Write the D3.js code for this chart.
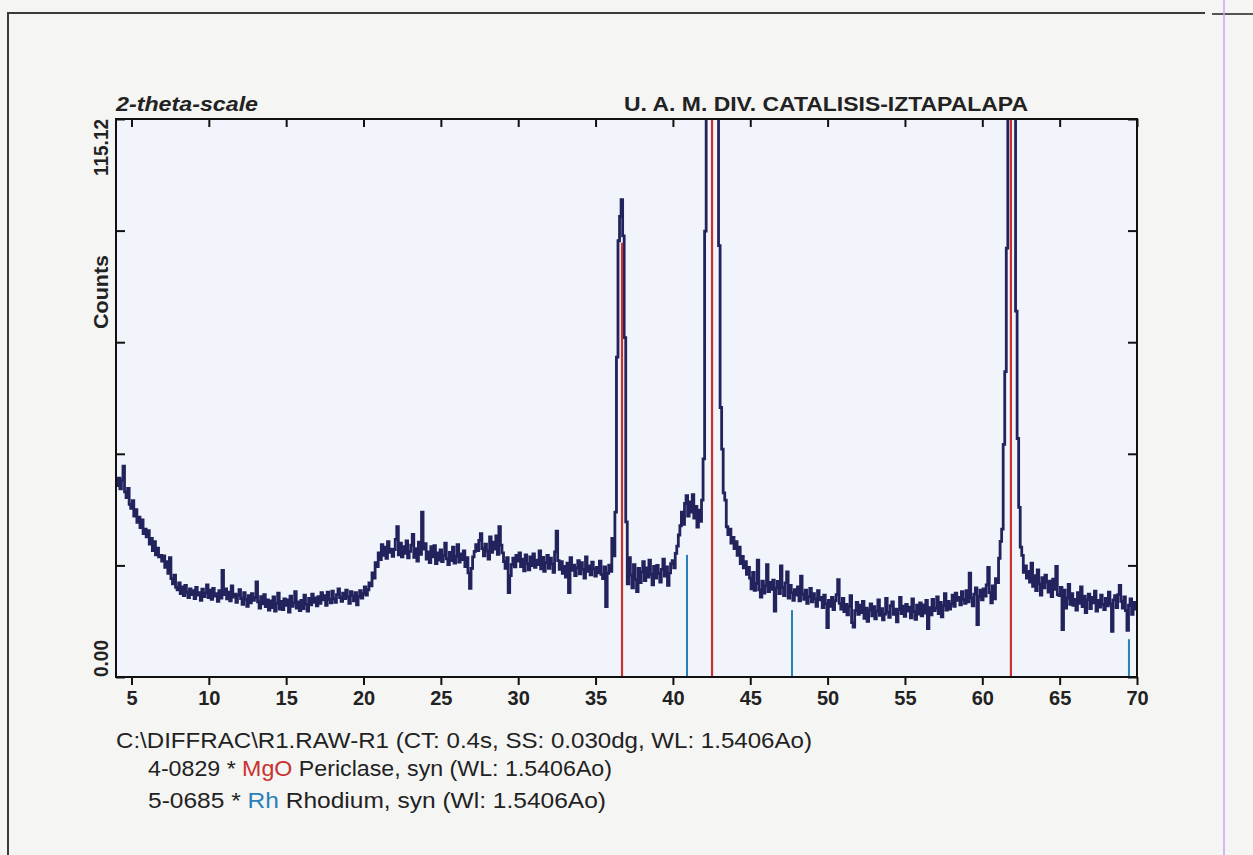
<!DOCTYPE html>
<html>
<head>
<meta charset="utf-8">
<script src="https://cdnjs.cloudflare.com/ajax/libs/d3/7.8.5/d3.min.js"></script>
<style>
    body { margin: 0; background: #f5f5f4; }
    text { font-family: "Liberation Sans", Arial, sans-serif; fill: #222; }
</style>
</head>
<body>
<div id="chart"></div>
<script>
// scan settings
var startAngle = 4.0,
    stepSize = 0.1;

// counts, one row per degree (4.0 ... 69.9, then 70.0)
var counts = [
    40.2, 39.5, 41.0, 38.8, 40.6, 43.5, 38.2, 37.0, 38.9, 35.6,
    34.8, 36.4, 33.2, 34.5, 31.9, 33.0, 30.8, 32.4, 29.6, 30.5,
    28.9, 30.2, 27.4, 28.6, 26.1, 27.9, 25.2, 26.6, 24.8, 25.1,
    23.9, 25.0, 22.6, 23.8, 21.4, 24.6, 20.3, 19.2, 21.0, 18.5,
    18.0, 19.4, 17.2, 18.6, 16.8, 18.9, 17.5, 16.4, 18.2, 17.0,
    17.8, 16.2, 18.5, 16.9, 17.4, 15.8, 18.1, 16.6, 17.3, 19.0,
    16.4, 17.9, 16.0, 18.3, 16.7, 17.2, 15.6, 17.8, 16.3, 22.0,
    17.0, 18.2, 16.1, 17.5, 15.7, 18.8, 16.5, 17.1, 15.4, 16.9,
    18.0, 16.2, 15.0, 17.4, 16.0, 14.6, 16.8, 15.3, 17.2, 15.8,
    16.4, 19.6, 15.5, 14.2, 16.6, 15.1, 17.0, 14.5, 15.9, 13.8,
    15.7, 14.3, 16.5, 13.6, 15.2, 17.3, 14.0, 15.6, 13.9, 16.1,
    14.8, 15.9, 13.4, 16.7, 14.6, 15.3, 17.6, 14.2, 15.5, 13.7,
    15.8, 14.1, 16.9, 15.0, 13.6, 16.2, 14.9, 17.1, 15.4, 16.3,
    14.7, 16.6, 15.2, 17.4, 15.9, 16.8, 14.8, 17.5, 16.0, 15.3,
    17.7, 16.1, 15.4, 17.0, 18.2, 16.4, 15.6, 17.3, 16.2, 17.9,
    16.5, 15.2, 17.6, 16.8, 15.7, 17.4, 14.9, 16.6, 17.8, 16.3,
    17.2, 18.6, 16.9, 18.0, 19.4, 18.8, 21.5, 20.4, 23.6, 22.8,
    25.6, 24.2, 27.3, 25.1, 26.8, 24.5, 27.9, 25.7, 26.4, 24.9,
    26.3, 28.4, 31.0, 25.2, 27.6, 24.8, 26.9, 25.5, 28.1, 24.6,
    25.9, 27.2, 29.4, 24.7, 26.5, 23.9, 27.8, 25.3, 34.0, 26.4,
    27.5, 24.3, 25.8, 23.6, 26.9, 24.8, 27.1, 23.4, 25.6, 24.1,
    26.2, 23.8, 25.1, 27.6, 24.4, 23.2, 25.7, 24.0, 26.8, 23.5,
    24.9, 27.3, 23.7, 25.4, 24.2, 26.0, 22.8, 24.6, 21.5, 18.3,
    22.4, 24.8, 25.9, 27.3, 26.1, 28.2, 29.6, 26.5, 25.0, 27.4,
    26.0, 24.3, 28.9, 25.7, 27.8, 26.4, 29.1, 25.3, 31.0, 27.2,
    25.6, 23.8, 22.4, 24.6, 17.4, 20.9, 23.2, 24.5, 22.7, 25.1,
    23.9, 25.6, 22.8, 24.3, 21.9, 25.2, 23.4, 22.1, 24.8, 23.0,
    25.4, 22.6, 24.1, 23.2, 26.0, 22.3, 24.7, 21.8, 23.6, 25.1,
    22.4, 24.5, 23.3, 21.6, 25.8, 30.1, 24.0, 22.2, 23.8, 21.4,
    22.8, 20.6, 23.5, 17.4, 24.6, 22.0, 23.1, 20.9, 22.5, 24.0,
    21.3, 23.6, 22.2, 20.4, 24.8, 21.8, 22.9, 21.1, 23.7, 22.3,
    20.8, 22.6, 21.5, 23.9, 21.2, 20.3, 22.7, 14.5, 21.4, 23.1,
    21.8, 28.6, 25.0, 34.0, 66.0, 90.0, 95.0, 98.5, 91.0, 70.0,
    32.0, 19.2, 24.6, 21.0, 18.4, 23.2, 20.1, 17.6, 22.4, 19.5,
    21.7, 23.8, 19.9, 22.5, 20.6, 24.1, 21.2, 19.0, 22.8, 20.4,
    23.0, 21.4, 19.6, 22.2, 24.3, 20.8, 22.7, 18.9, 21.5, 23.4,
    24.0, 22.5, 25.5, 27.0, 29.3, 31.2, 34.0, 31.5, 35.8, 37.4,
    33.2, 36.1, 34.0, 37.6, 32.8, 35.2, 30.9, 34.4, 32.1, 36.5,
    45.0, 92.0, 180, 320, 450, 510, 440, 310, 200, 132,
    89.0, 55.6, 47.0, 38.0, 36.5, 31.0, 29.4, 30.5, 27.6, 28.8,
    26.5, 27.9, 25.1, 26.8, 23.4, 24.9, 22.5, 23.8, 21.2, 22.6,
    20.4, 18.2, 21.6, 17.9, 19.3, 24.1, 18.0, 16.5, 19.8, 17.3,
    18.8, 23.2, 17.6, 19.5, 18.1, 20.0, 13.6, 18.4, 19.7, 17.2,
    22.9, 18.5, 16.8, 19.4, 21.7, 16.3, 18.9, 17.4, 15.8, 18.0,
    16.9, 18.6, 15.7, 20.8, 17.1, 16.0, 17.9, 15.2, 16.6, 18.3,
    15.5, 17.2, 16.1, 14.6, 17.8, 15.9, 16.4, 14.3, 16.9, 15.1,
    10.2, 15.8, 14.6, 16.4, 13.9, 15.7, 17.0, 20.1, 15.2, 14.0,
    16.2, 13.5, 15.0, 12.8, 14.6, 16.8, 11.2, 10.3, 13.7, 15.4,
    12.9, 14.8, 13.3, 15.6, 12.1, 14.2, 11.5, 13.8, 15.1, 12.6,
    14.5, 12.0, 13.6, 15.9, 12.7, 14.1, 11.8, 13.0, 16.2, 13.4,
    12.3, 14.7, 15.5, 12.9, 14.0, 11.4, 13.9, 16.4, 13.1, 14.6,
    12.5, 15.0, 13.6, 14.4, 12.2, 16.1, 13.5, 11.9, 14.8, 13.0,
    15.3, 12.6, 14.9, 13.2, 15.8, 10.0, 14.3, 12.8, 16.0, 13.7,
    14.2, 16.5, 13.1, 15.4, 12.4, 14.7, 17.2, 13.8, 15.6, 14.0,
    15.1, 16.9, 14.6, 17.3, 15.8, 16.4, 14.9, 17.6, 16.0, 15.2,
    17.8, 15.5, 21.4, 16.3, 14.7, 17.1, 18.4, 10.8, 16.6, 17.9,
    15.9, 18.2, 16.7, 19.0, 22.6, 17.4, 15.3, 18.8, 16.1, 20.3,
    19.5, 24.5, 28.0, 30.5, 48.0, 63.0, 88.5, 150, 230, 245,
    175, 118, 75.5, 49.2, 35.0, 26.8, 25.1, 21.6, 22.9, 20.4,
    21.8, 19.6, 23.5, 18.7, 20.9, 17.8, 22.1, 19.2, 16.9, 20.5,
    18.4, 21.0, 19.6, 17.5, 19.8, 16.6, 20.2, 18.1, 22.8, 17.0,
    16.8, 18.5, 9.8, 17.9, 14.2, 16.3, 19.1, 15.0, 17.2, 14.8,
    16.0, 13.8, 17.4, 15.2, 18.6, 14.5, 16.7, 13.3, 15.9, 17.1,
    14.1, 16.4, 15.3, 17.7, 13.6, 15.8, 14.4, 16.9, 15.0, 13.9,
    16.2, 14.7, 17.5, 15.1, 9.4, 15.9, 16.8, 14.3, 17.0, 18.9,
    15.6, 14.2, 16.5, 13.7, 9.6, 14.8, 16.1, 12.9, 15.4, 14.0,
    14.6
];

// reference card sticks (2-theta, height in counts)
var mgoAngles = [36.71, 42.53, 61.85],
    mgoHeights = [89.6, 400, 300],
    rhAngles = [40.91, 47.70, 69.48],
    rhHeights = [25.2, 13.8, 7.8];

var xTicks = [5, 10, 15, 20, 25, 30, 35, 40, 45, 50, 55, 60, 65, 70],
    yMax = 115.12,
    yDivisions = 5;

var width = 1253,
    height = 855,
    plot = { left: 116, right: 1137, top: 119, bottom: 677 };

var svg = d3.select("#chart").append("svg")
    .attr("width", width)
    .attr("height", height);

svg.append("rect").attr("width", width).attr("height", height).attr("fill", "#f5f5f4");

// scanned page borders
svg.append("line").attr("x1", 7).attr("x2", 1205).attr("y1", 13).attr("y2", 13)
    .attr("stroke", "#3a3a3a").attr("stroke-width", 2);
svg.append("line").attr("x1", 1212).attr("x2", 1253).attr("y1", 14).attr("y2", 14)
    .attr("stroke", "#555").attr("stroke-width", 2);
svg.append("line").attr("x1", 8).attr("x2", 8).attr("y1", 12).attr("y2", height)
    .attr("stroke", "#3a3a3a").attr("stroke-width", 2);
svg.append("line").attr("x1", 1224).attr("x2", 1224).attr("y1", 0).attr("y2", height)
    .attr("stroke", "#c9a6f2").attr("stroke-width", 1.5);

var x = d3.scaleLinear().domain([startAngle, 70]).range([plot.left, plot.right]),
    y = d3.scaleLinear().domain([0, yMax]).range([plot.bottom, plot.top]);

svg.append("rect")
    .attr("x", plot.left).attr("y", plot.top)
    .attr("width", plot.right - plot.left).attr("height", plot.bottom - plot.top)
    .attr("fill", "#f1f4fa");

svg.append("clipPath").attr("id", "clip")
    .append("rect")
    .attr("x", plot.left).attr("y", plot.top)
    .attr("width", plot.right - plot.left).attr("height", plot.bottom - plot.top);

var data = counts.map(function (c, i) {
    return { t: startAngle + i * stepSize, c: c };
});

var line = d3.line()
    .x(function (d) { return x(d.t); })
    .y(function (d) { return y(d.c); })
    .curve(d3.curveStep);

svg.append("path")
    .datum(data)
    .attr("clip-path", "url(#clip)")
    .attr("fill", "none")
    .attr("stroke", "#22225c")
    .attr("stroke-width", 2.8)
    .attr("stroke-linejoin", "miter")
    .attr("d", line);

// card sticks go on top of the scan
var sticks = svg.append("g").attr("clip-path", "url(#clip)");
sticks.selectAll(".mgo")
    .data(mgoAngles).enter()
    .append("line")
    .attr("class", "mgo")
    .attr("x1", function (d) { return x(d); })
    .attr("x2", function (d) { return x(d); })
    .attr("y1", y(0))
    .attr("y2", function (d, i) { return y(mgoHeights[i]); })
    .attr("stroke", "#c8322e")
    .attr("stroke-width", 2.2);

sticks.selectAll(".rh")
    .data(rhAngles).enter()
    .append("line")
    .attr("class", "rh")
    .attr("x1", function (d) { return x(d); })
    .attr("x2", function (d) { return x(d); })
    .attr("y1", y(0))
    .attr("y2", function (d, i) { return y(rhHeights[i]); })
    .attr("stroke", "#2b7fb8")
    .attr("stroke-width", 2);

// axes
var yTicks = d3.range(yDivisions + 1).map(function (i) { return i * yMax / yDivisions; });

var axBottom = svg.append("g")
    .attr("transform", "translate(0," + plot.bottom + ")")
    .call(d3.axisBottom(x).tickValues(xTicks).tickSize(8).tickPadding(6).tickFormat(d3.format("d")));
var axTop = svg.append("g")
    .attr("transform", "translate(0," + plot.top + ")")
    .call(d3.axisTop(x).tickValues(xTicks).tickSize(-8).tickFormat(""));
var axLeft = svg.append("g")
    .attr("transform", "translate(" + plot.left + ",0)")
    .call(d3.axisLeft(y).tickValues(yTicks).tickSize(-9).tickFormat(""));
var axRight = svg.append("g")
    .attr("transform", "translate(" + plot.right + ",0)")
    .call(d3.axisRight(y).tickValues(yTicks).tickSize(-9).tickFormat(""));

[axBottom, axTop, axLeft, axRight].forEach(function (g) {
    g.select(".domain").remove();
    g.selectAll(".tick line").attr("stroke", "#111").attr("stroke-width", 2);
});
axBottom.selectAll(".tick text")
    .style("font-family", "'Liberation Sans', Arial, sans-serif")
    .style("font-size", "20px")
    .style("font-weight", "bold")
    .attr("fill", "#222");

svg.append("rect")
    .attr("x", plot.left).attr("y", plot.top)
    .attr("width", plot.right - plot.left).attr("height", plot.bottom - plot.top)
    .attr("fill", "none")
    .attr("stroke", "#111")
    .attr("stroke-width", 2);

// y labels, rotated like the original printout
svg.append("text")
    .attr("transform", "translate(108," + y(yMax) + ")rotate(-90)")
    .attr("text-anchor", "end")
    .attr("textLength", 57).attr("lengthAdjust", "spacingAndGlyphs")
    .style("font-size", "20px").style("font-weight", "bold")
    .text(d3.format(".2f")(yMax));
svg.append("text")
    .attr("transform", "translate(108," + y(0) + ")rotate(-90)")
    .attr("text-anchor", "start")
    .attr("textLength", 37).attr("lengthAdjust", "spacingAndGlyphs")
    .style("font-size", "20px").style("font-weight", "bold")
    .text(d3.format(".2f")(0));
svg.append("text")
    .attr("transform", "translate(108,292)rotate(-90)")
    .attr("text-anchor", "middle")
    .attr("textLength", 74).attr("lengthAdjust", "spacingAndGlyphs")
    .style("font-size", "20px").style("font-weight", "bold")
    .text("Counts");

// titles above the frame
svg.append("text")
    .attr("x", 116).attr("y", 111)
    .attr("textLength", 142).attr("lengthAdjust", "spacingAndGlyphs")
    .style("font-size", "21px").style("font-weight", "bold").style("font-style", "italic")
    .text("2-theta-scale");
svg.append("text")
    .attr("x", 624).attr("y", 111)
    .attr("textLength", 404).attr("lengthAdjust", "spacingAndGlyphs")
    .style("font-size", "21px").style("font-weight", "bold")
    .text("U. A. M. DIV. CATALISIS-IZTAPALAPA");

// file / card info below the plot
var info = svg.append("g").style("font-size", "22px");
info.append("text").attr("x", 116).attr("y", 748)
    .attr("textLength", 696).attr("lengthAdjust", "spacingAndGlyphs")
    .text("C:\\DIFFRAC\\R1.RAW-R1 (CT: 0.4s, SS: 0.030dg, WL: 1.5406Ao)");

var card1 = info.append("text").attr("x", 148).attr("y", 776)
    .attr("textLength", 464).attr("lengthAdjust", "spacingAndGlyphs");
card1.append("tspan").text("4-0829 * ");
card1.append("tspan").attr("fill", "#c8322e").text("MgO");
card1.append("tspan").text(" Periclase, syn (WL: 1.5406Ao)");

var card2 = info.append("text").attr("x", 148).attr("y", 808)
    .attr("textLength", 458).attr("lengthAdjust", "spacingAndGlyphs");
card2.append("tspan").text("5-0685 * ");
card2.append("tspan").attr("fill", "#2b7fb8").text("Rh");
card2.append("tspan").text(" Rhodium, syn (Wl: 1.5406Ao)");
</script>
</body>
</html>
